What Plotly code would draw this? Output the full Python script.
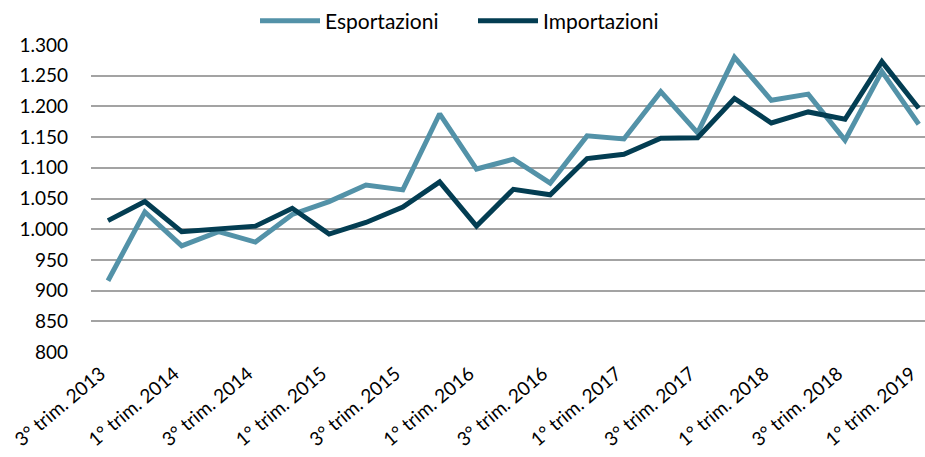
import plotly.graph_objects as go

categories = [
    "3° trim. 2013", "4° trim. 2013",
    "1° trim. 2014", "2° trim. 2014", "3° trim. 2014", "4° trim. 2014",
    "1° trim. 2015", "2° trim. 2015", "3° trim. 2015", "4° trim. 2015",
    "1° trim. 2016", "2° trim. 2016", "3° trim. 2016", "4° trim. 2016",
    "1° trim. 2017", "2° trim. 2017", "3° trim. 2017", "4° trim. 2017",
    "1° trim. 2018", "2° trim. 2018", "3° trim. 2018", "4° trim. 2018",
    "1° trim. 2019",
]
esportazioni = [916, 1028, 973, 996, 979, 1024, 1045, 1072, 1064, 1188, 1098, 1114,
                1075, 1152, 1147, 1224, 1157, 1280, 1210, 1220, 1145, 1257, 1171]
importazioni = [1014, 1045, 996, 1000, 1005, 1034, 992, 1011, 1036, 1077, 1005, 1065,
                1056, 1115, 1122, 1148, 1149, 1213, 1173, 1191, 1179, 1273, 1197]
y_ticks = [800, 850, 900, 950, 1000, 1050, 1100, 1150, 1200, 1250, 1300]

x_idx = list(range(len(categories)))
tick_idx = x_idx[::2]
tick_text = [categories[i] + "\u2002" for i in tick_idx]

fig = go.Figure()
fig.add_trace(go.Scatter(x=x_idx, y=esportazioni, mode="lines", name="Esportazioni",
                         line=dict(color="#5392A8", width=5)))
fig.add_trace(go.Scatter(x=x_idx, y=importazioni, mode="lines", name="Importazioni",
                         line=dict(color="#033D52", width=5)))

font_family = "Lato, 'Open Sans', sans-serif"
fig.update_layout(
    width=925, height=457,
    margin=dict(l=91, r=0, t=45, b=105, autoexpand=False),
    paper_bgcolor="white", plot_bgcolor="white",
    separators=",.",
    font=dict(family=font_family, color="#000000"),
    showlegend=True,
    legend=dict(orientation="h", xref="container", yref="container",
                x=255 / 925, xanchor="left", y=1 - 21 / 457, yanchor="middle",
                font=dict(size=21), itemwidth=60, entrywidth=143,
                entrywidthmode="pixels", tracegroupgap=0,
                bgcolor="rgba(0,0,0,0)"),
    xaxis=dict(range=[-0.461, 22.17], tickmode="array", tickvals=tick_idx,
               ticktext=tick_text, tickangle=-40, tickfont=dict(size=19),
               showgrid=False, zeroline=False, showline=False, ticks="",
               automargin=False, ticklabeloverflow="allow", ticklabelstandoff=0),
    yaxis=dict(range=[800, 1300], tickmode="array", tickvals=y_ticks,
               tickformat=",d", tickfont=dict(size=19), showgrid=True,
               gridcolor="#A3A3A3", gridwidth=2, zeroline=False, showline=False,
               ticklabelstandoff=22, automargin=False),
)

fig.write_html(
    "out.html",
    config={"displayModeBar": False, "staticPlot": True},
    post_script="document.body.style.margin='0';document.body.style.overflow='hidden';",
)
